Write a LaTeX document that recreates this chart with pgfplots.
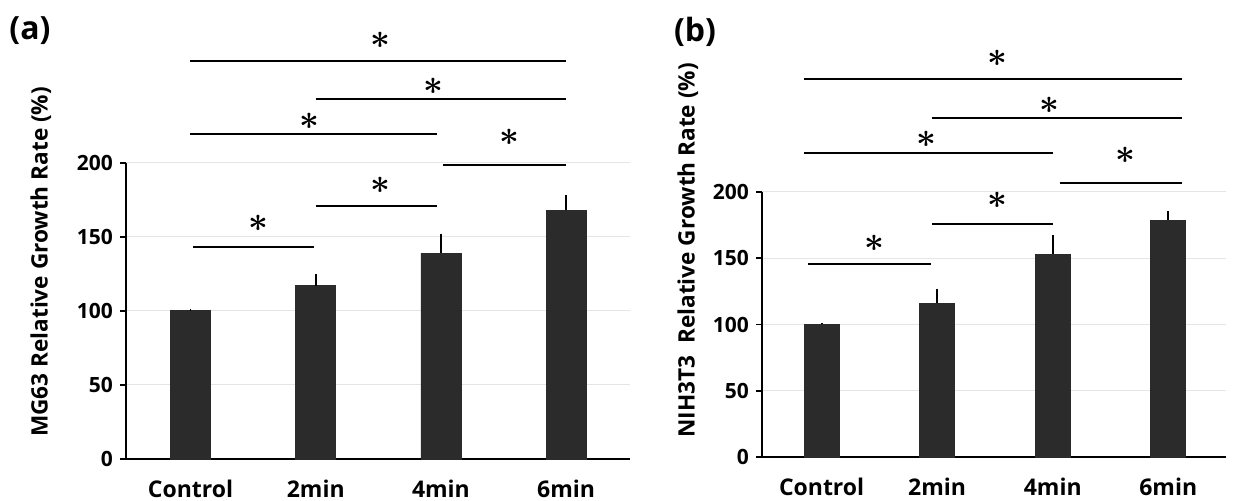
\documentclass[border=0pt]{standalone}
\usepackage{pgfplots}
\pgfplotsset{compat=1.18}
\usepackage{pgfplotstable}
\usepackage{fontspec}
\usepackage{bm}
\setmainfont{Open Sans}
\definecolor{barcol}{HTML}{2B2B2B}

\pgfplotstableread{
x y e
0 100 1
1 117 8
2 139 13
3 168 10
}\dataA
\pgfplotstableread{
x y e
0 100 1
1 116 11
2 153 14.5
3 178.5 7
}\dataB

\newcommand{\sig}{\fontsize{19}{19}\selectfont$\bm{\ast}$}

\pgfplotsset{
  mystyle/.style={
    scale only axis, anchor=south west, clip=false,
    ymin=0, ymax=200,
    axis x line=bottom, axis y line=left,
    axis line style={-, line width=1pt, black},
    xtick={0,1,2,3}, xticklabels={Control,2min,4min,6min},
    major x tick style={draw=none},
    ytick={0,50,100,150,200},
    tick align=outside, major tick length=3pt,
    y tick style={line width=0.9pt, black},
    ymajorgrids, grid style={black!10, line width=0.5pt},
    /pgf/number format/assume math mode=true,
    yticklabel style={font=\fontsize{10.5}{11}\selectfont\bfseries},
    xticklabel style={font=\fontsize{11.5}{12}\selectfont\bfseries, inner sep=0pt, yshift=-7.3pt},
    ylabel style={font=\fontsize{11.3}{12}\selectfont\bfseries, anchor=center},
  },
  sigline/.style={black, line width=1.1pt, forget plot},
}

\begin{document}
\begin{tikzpicture}
\useasboundingbox (0,0) rectangle (617pt,250.5pt);

\node[font=\fontsize{16}{17}\selectfont\bfseries] at (15pt,235pt) {(a)};
\node[font=\fontsize{16}{17}\selectfont\bfseries] at (347.5pt,234.5pt) {(b)};

\begin{axis}[mystyle,
  at={(63pt,21pt)}, width=252pt, height=148.15pt,
  xmin=-0.515, xmax=3.51,
  ylabel={MG63 Relative Growth Rate (\%)},
  ylabel style={at={(axis description cs:-0.169,0.665)}},
]
\addplot[ybar, bar width=20pt, fill=barcol, draw=barcol,
  error bars/.cd, y dir=plus, y explicit, error mark=none,
  error bar style={line width=0.9pt, black}]
  table[x=x, y=y, y error=e] {\dataA};
\addplot[sigline] coordinates {(0,268.6) (3,268.6)};
\addplot[sigline] coordinates {(1,243) (3,243)};
\addplot[sigline] coordinates {(0,219.4) (1.97,219.4)};
\addplot[sigline] coordinates {(2.02,198.4) (3,198.4)};
\addplot[sigline] coordinates {(1,170.8) (1.97,170.8)};
\addplot[sigline] coordinates {(0.02,143.1) (0.99,143.1)};
\node at (axis cs:1.52,282.8) {\sig};
\node at (axis cs:1.94,251.8) {\sig};
\node at (axis cs:0.95,228.1) {\sig};
\node at (axis cs:2.55,217.3) {\sig};
\node at (axis cs:1.52,185) {\sig};
\node at (axis cs:0.54,159.3) {\sig};
\end{axis}

\begin{axis}[mystyle,
  at={(381pt,22pt)}, width=232pt, height=132.5pt,
  xmin=-0.516, xmax=3.5,
  ylabel={NIH3T3\ \ Relative Growth Rate (\%)},
  ylabel style={at={(axis description cs:-0.16,0.78)}},
]
\addplot[ybar, bar width=17.5pt, fill=barcol, draw=barcol,
  error bars/.cd, y dir=plus, y explicit, error mark=none,
  error bar style={line width=0.9pt, black}]
  table[x=x, y=y, y error=e] {\dataB};
\addplot[sigline] coordinates {(-0.15,285) (3.12,285)};
\addplot[sigline] coordinates {(0.955,256) (3.12,256)};
\addplot[sigline] coordinates {(-0.15,229.7) (2.0,229.7)};
\addplot[sigline] coordinates {(2.06,207) (3.12,207)};
\addplot[sigline] coordinates {(0.955,175.8) (2.0,175.8)};
\addplot[sigline] coordinates {(-0.12,145.4) (0.95,145.4)};
\node at (axis cs:1.52,301) {\sig};
\node at (axis cs:1.97,265.7) {\sig};
\node at (axis cs:0.91,239.8) {\sig};
\node at (axis cs:2.63,228) {\sig};
\node at (axis cs:1.52,194) {\sig};
\node at (axis cs:0.46,161.5) {\sig};
\end{axis}
\end{tikzpicture}
\end{document}
